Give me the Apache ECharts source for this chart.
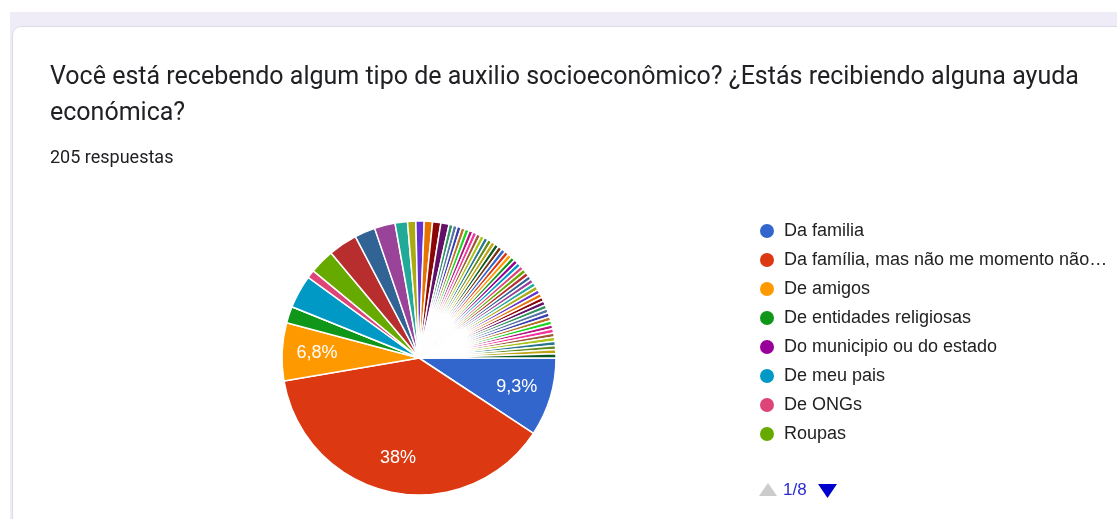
<!DOCTYPE html>
<html>
<head>
<meta charset="utf-8">
<script src="https://cdn.jsdelivr.net/npm/echarts@6/dist/echarts.min.js"></script>
<style>
  html, body { margin: 0; padding: 0; width: 1117px; height: 519px; overflow: hidden; background: #fff; }
  #band { position: absolute; left: 10px; top: 12px; width: 1140px; height: 540px; background: #efecf8; }
  #card { position: absolute; left: 12px; top: 26px; width: 1140px; height: 540px; background: #fff; border: 1px solid #dedbe8; border-radius: 9px; }
  #chart { position: absolute; left: 0; top: 0; width: 1117px; height: 519px; }
</style>
</head>
<body>
<div id="band"></div>
<div id="card"></div>
<div id="chart"></div>
<script>
// respostas por categoria (205 no total)
const categories = [
  'Da familia', 'Da família, mas não me momento não…', 'De amigos', 'De entidades religiosas',
  'Do municipio ou do estado', 'De meu pais', 'De ONGs', 'Roupas',
  'Alimentos', 'Bolsa Família', 'Auxílio emergencial', 'Da universidade',
  'Do trabalho', 'Da igreja', 'Do governo', 'Cesta básica', 'Moradia',
  'Outro 1', 'Outro 2', 'Outro 3', 'Outro 4', 'Outro 5', 'Outro 6', 'Outro 7', 'Outro 8',
  'Outro 9', 'Outro 10', 'Outro 11', 'Outro 12', 'Outro 13', 'Outro 14', 'Outro 15', 'Outro 16',
  'Outro 17', 'Outro 18', 'Outro 19', 'Outro 20', 'Outro 21', 'Outro 22', 'Outro 23', 'Outro 24',
  'Outro 25', 'Outro 26', 'Outro 27', 'Outro 28', 'Outro 29', 'Outro 30', 'Outro 31', 'Outro 32',
  'Outro 33', 'Outro 34', 'Outro 35', 'Outro 36', 'Outro 37', 'Outro 38', 'Outro 39', 'Outro 40',
  'Outro 41', 'Outro 42', 'Outro 43', 'Outro 44'
];
const counts = [
  19, 78, 14, 4, 0, 8, 2, 6,
  7, 5, 5, 3, 2, 2, 2, 2, 2,
  1, 1, 1, 1, 1, 1, 1, 1,
  1, 1, 1, 1, 1, 1, 1, 1,
  1, 1, 1, 1, 1, 1, 1, 1,
  1, 1, 1, 1, 1, 1, 1, 1,
  1, 1, 1, 1, 1, 1, 1, 1,
  1, 1, 1, 1
];
const palette = [
  '#3366cc', '#dc3912', '#ff9900', '#109618', '#990099', '#0099c6', '#dd4477', '#66aa00',
  '#b82e2e', '#316395', '#994499', '#22aa99', '#aaaa11', '#6633cc', '#e67300', '#8b0707',
  '#651067', '#329262', '#5574a6', '#3b3eac', '#b77322', '#16d620', '#b91383', '#f4359e',
  '#9c5935', '#a9c413', '#2a778d', '#668d1c', '#bea413', '#0c5922', '#743411'
];
const titleText = 'Você está recebendo algum tipo de auxilio socioeconômico? ¿Estás recibiendo alguna ayuda\neconómica?';
const subText = '205 respuestas';
const perPage = 8;

const formsFont = 'Roboto, "Noto Sans", sans-serif';
const chartFont = '"Liberation Sans", Arial, sans-serif';
const total = counts.reduce((a, b) => a + b, 0);
const pieData = categories.map((name, i) => ({ name: name, value: counts[i] }));
const pageCount = Math.ceil(categories.length / perPage);

const chart = echarts.init(document.getElementById('chart'));
chart.setOption({
  color: palette,
  animation: false,
  title: [
    {
      text: titleText, left: 50, top: 60, padding: 0,
      textStyle: { fontFamily: formsFont, fontSize: 25, fontWeight: 'normal', color: '#202124', lineHeight: 36 }
    },
    {
      text: subText, left: 50, top: 149, padding: 0,
      textStyle: { fontFamily: formsFont, fontSize: 18, fontWeight: 'normal', color: '#202124', lineHeight: 18 }
    }
  ],
  legend: {
    orient: 'vertical',
    left: 758, top: 222, padding: 0,
    icon: 'circle', itemWidth: 16, itemHeight: 16, itemGap: 11,
    data: categories.slice(0, perPage),
    selectedMode: false,
    textStyle: {
      fontFamily: chartFont, fontSize: 18, color: '#222',
      padding: [0, 0, 0, 4], width: 332, overflow: 'truncate', ellipsis: '…'
    }
  },
  graphic: [
    // paginador da legenda
    { type: 'polygon', shape: { points: [[759, 496], [768, 483], [777, 496]] }, style: { fill: '#cccccc' } },
    {
      type: 'text', left: 783, top: 482,
      style: { text: '1/' + pageCount, font: '17px "Liberation Sans", Arial, sans-serif', fill: '#2a2ad2' }
    },
    { type: 'polygon', shape: { points: [[818, 484], [837, 484], [827.5, 498]] }, style: { fill: '#0000cc' } }
  ],
  series: [
    {
      type: 'pie',
      center: [419, 358], radius: [0, 137],
      startAngle: 0, clockwise: true,
      data: pieData,
      label: { show: false },
      labelLine: { show: false },
      itemStyle: { borderColor: '#fff', borderWidth: 1.5 },
      emphasis: { disabled: true }
    },
    {
      // só rótulos, colocados a ~0.72 do raio como no original
      type: 'pie',
      center: [419, 358], radius: [61, 137],
      startAngle: 0, clockwise: true,
      silent: true,
      data: pieData,
      itemStyle: { color: 'rgba(0,0,0,0)' },
      labelLine: { show: false },
      label: {
        show: true, position: 'inside',
        fontFamily: chartFont, fontSize: 18, color: '#fff',
        formatter: p => {
          const pct = p.value / total * 100;
          if (pct < 5) return '';
          const s = pct >= 10 ? Math.round(pct).toString() : pct.toFixed(1).replace('.', ',');
          return s + '%';
        }
      },
      emphasis: { disabled: true }
    }
  ]
});
</script>
</body>
</html>
